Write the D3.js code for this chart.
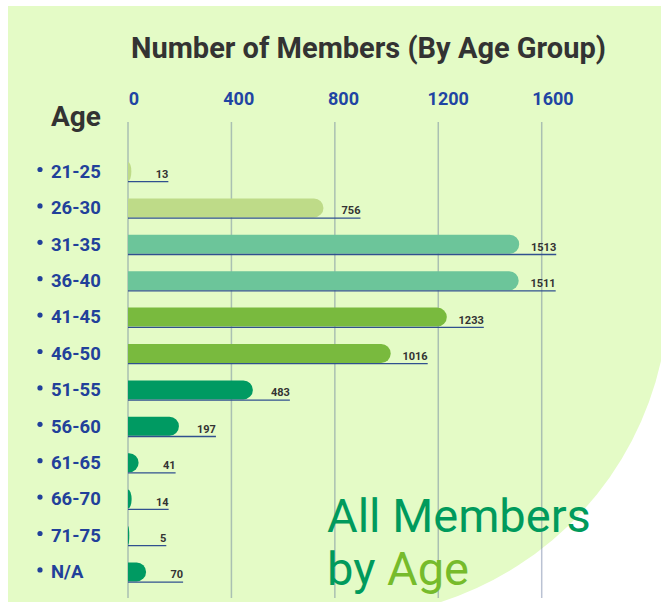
<!DOCTYPE html>
<html>
<head>
<meta charset="utf-8">
<script src="https://cdn.jsdelivr.net/npm/d3@7"></script>
<style>
  html, body { margin: 0; padding: 0; background: #fff; }
  svg { display: block; font-family: Roboto, "Liberation Sans", sans-serif; }
</style>
</head>
<body>
<svg width="661" height="602"></svg>
<script>
// dados
const ageGroups = ["21-25", "26-30", "31-35", "36-40", "41-45", "46-50",
                   "51-55", "56-60", "61-65", "66-70", "71-75", "N/A"];
const members   = [13, 756, 1513, 1511, 1233, 1016, 483, 197, 41, 14, 5, 70];
const tickValues = [0, 400, 800, 1200, 1600];
// cor por grupo de idade (pares)
const barColors = ["#bedb88", "#bedb88", "#6cc59a", "#6cc59a", "#79ba3e", "#79ba3e",
                   "#009a62", "#009a62", "#009a62", "#009a62", "#009a62", "#009a62"];

const svg = d3.select("svg");
const width = 661, height = 602;

// --- fundo verde com canto arredondado grande ---
svg.append("path")
  .attr("d", "M8,6 H661 V361 A329,329 0 0,1 441,602 H8 Z")
  .attr("fill", "#e4fbc6");

const x = d3.scaleLinear().domain([0, 1600]).range([128, 541.7]);
const xLabel = d3.scaleLinear().domain([0, 1600]).range([134, 553]);
const y = d3.scalePoint().domain(ageGroups).range([171.5, 571.9]);
const barH = 19;

// grade vertical
svg.append("g")
  .selectAll("line")
  .data(tickValues)
  .join("line")
  .attr("x1", d => x(d)).attr("x2", d => x(d))
  .attr("y1", 122).attr("y2", 598)
  .attr("stroke", "rgba(90,110,150,0.42)")
  .attr("stroke-width", 1.5);

// rótulos do eixo (topo)
svg.append("g")
  .selectAll("text")
  .data(tickValues)
  .join("text")
  .attr("x", d => xLabel(d))
  .attr("y", 105)
  .attr("text-anchor", "middle")
  .attr("fill", "#1f45a3")
  .style("font-size", "18px")
  .style("font-weight", 700)
  .text(d => d);

// título
svg.append("text")
  .attr("x", 131).attr("y", 58)
  .attr("fill", "#333")
  .style("font-size", "29px")
  .style("font-weight", 700)
  .text("Number of Members (By Age Group)");

svg.append("text")
  .attr("x", 51).attr("y", 126)
  .attr("fill", "#333")
  .style("font-size", "28px")
  .style("font-weight", 700)
  .text("Age");

const data = ageGroups.map((g, i) => ({ group: g, value: members[i], color: barColors[i] }));

// barra com ponta direita arredondada
function barPath(d) {
  const x0 = x(0), x1 = x(d.value);
  const top = y(d.group) - barH / 2, bot = top + barH;
  const w = x1 - x0;
  const ry = barH / 2, rx = Math.min(ry, w);
  return `M${x0},${top} H${x1 - rx} A${rx},${ry} 0 0 1 ${x1},${top + ry}` +
         ` A${rx},${ry} 0 0 1 ${x1 - rx},${bot} H${x0} Z`;
}

const rows = svg.append("g")
  .selectAll("g")
  .data(data)
  .join("g");

rows.append("path")
  .attr("d", barPath)
  .attr("fill", d => d.color);

// sublinhado até o rótulo
rows.append("line")
  .attr("x1", x(0))
  .attr("x2", d => x(d.value) + 37)
  .attr("y1", d => y(d.group) + 10.2)
  .attr("y2", d => y(d.group) + 10.2)
  .attr("stroke", "#30508f")
  .attr("stroke-width", 1.3);

rows.append("text")
  .attr("x", d => x(d.value) + 37)
  .attr("y", d => y(d.group) + 6.5)
  .attr("text-anchor", "end")
  .attr("fill", "#333")
  .style("font-size", "11px")
  .style("font-weight", 700)
  .text(d => d.value);

// rótulos das categorias com marcador
rows.append("circle")
  .attr("cx", 40)
  .attr("cy", d => y(d.group) - 2)
  .attr("r", 2.6)
  .attr("fill", "#21409a");

rows.append("text")
  .attr("x", 51)
  .attr("y", d => y(d.group) + 6.3)
  .attr("fill", "#21409a")
  .style("font-size", "18.5px")
  .style("font-weight", 700)
  .text(d => d.group);

// texto grande no canto
const big = svg.append("g").style("font-size", "47px").style("font-weight", 400);
big.append("text")
  .attr("x", 327).attr("y", 532)
  .attr("fill", "#009a5c")
  .text("All Members");
const l2 = big.append("text").attr("x", 327).attr("y", 585);
l2.append("tspan").attr("fill", "#009a5c").text("by ");
l2.append("tspan").attr("fill", "#76bb2b").text("Age");
</script>
</body>
</html>
